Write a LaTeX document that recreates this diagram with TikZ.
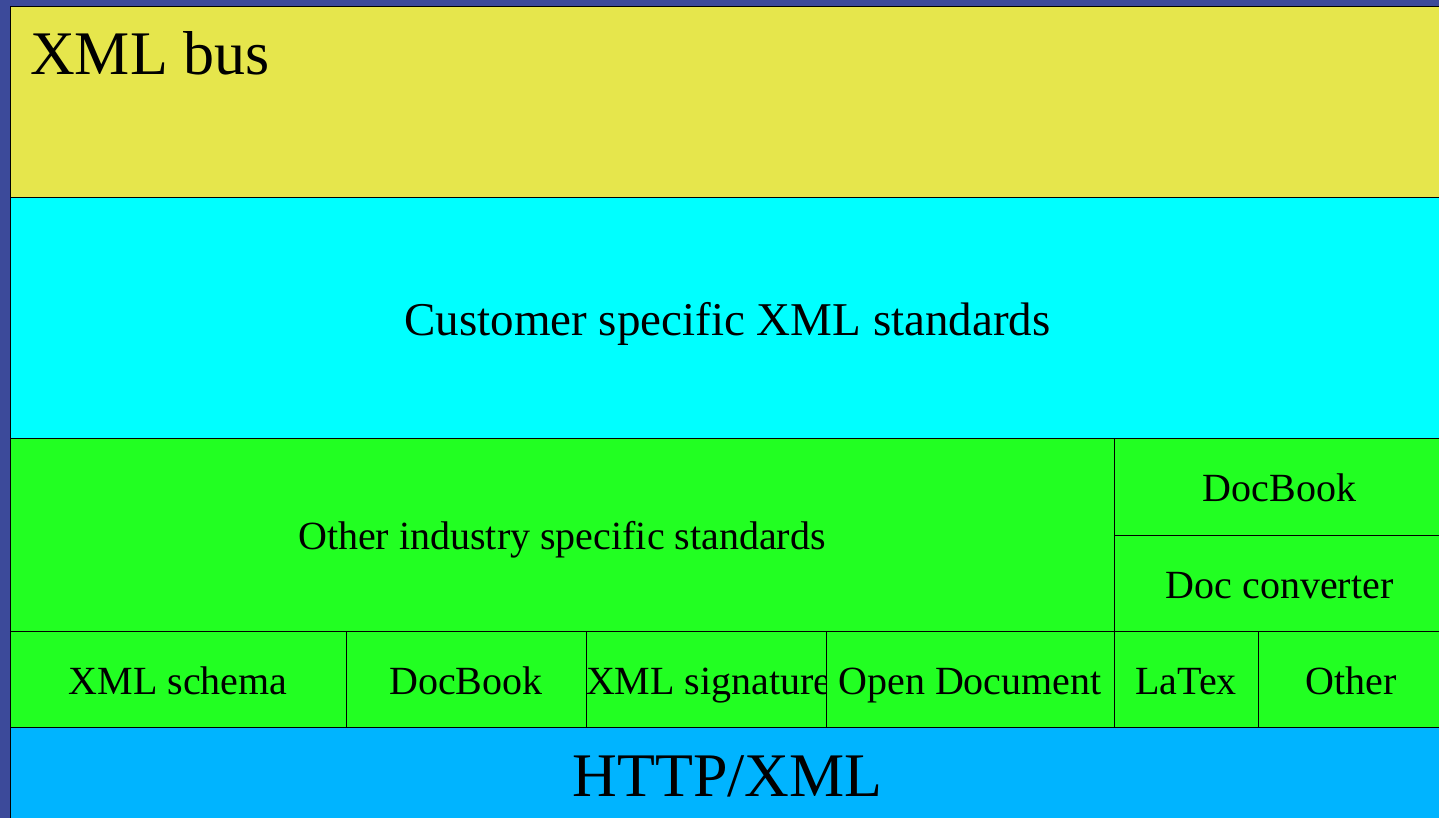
\documentclass[tikz,border=0pt]{standalone}
\usepackage{fontspec}
\setmainfont{Liberation Serif}
\definecolor{frameblue}{RGB}{60,74,154}
\definecolor{busyellow}{RGB}{230,230,76}
\definecolor{custcyan}{RGB}{0,255,255}
\definecolor{stdgreen}{RGB}{34,255,34}
\definecolor{httpblue}{RGB}{0,180,255}
\begin{document}
\begin{tikzpicture}[x=1pt,y=-1pt,
  layer/.style={draw=black,line width=1pt,anchor=north west,inner sep=0pt,
    outer sep=0pt,text=black,text depth=0pt},
  small/.style={font=\fontsize{40}{44}\selectfont,text height=30pt},
  medium/.style={font=\fontsize{47}{50}\selectfont,text height=35pt},
  large/.style={font=\fontsize{62}{66}\selectfont,text height=46pt},
]
\useasboundingbox (0,0) rectangle (1439,818);
\fill[frameblue] (0,0) rectangle (1439,818);

% top layer: the bus
\node[layer,fill=busyellow,minimum width=1435pt,minimum height=191pt] (bus) at (10,7) {};
\node[anchor=base west,inner sep=0pt,font=\fontsize{62}{66}\selectfont] (buslabel) at (30,75) {XML bus};

% customer standards
\node[layer,fill=custcyan,minimum width=1435pt,minimum height=240pt,medium] (cust) at (10,198) {Customer specific XML standards};

% industry standards
\node[layer,fill=stdgreen,minimum width=1104pt,minimum height=193pt,small] (industry) at (10,438) {Other industry specific standards};
\node[layer,fill=stdgreen,minimum width=331pt,minimum height=97pt,small] (docbooktop) at (1114,438) {DocBook};
\node[layer,fill=stdgreen,minimum width=331pt,minimum height=96pt,small] (converter) at (1114,535) {Doc converter};

% base standards row
\node[layer,fill=stdgreen,minimum width=336pt,minimum height=96pt,small] (schema) at (10,631) {XML schema};
\node[layer,fill=stdgreen,minimum width=240pt,minimum height=96pt,small] (docbook) at (346,631) {DocBook};
\node[layer,fill=stdgreen,minimum width=240pt,minimum height=96pt,small] (signature) at (586,631) {XML signature};
\node[layer,fill=stdgreen,minimum width=288pt,minimum height=96pt,small] (opendoc) at (826,631) {Open Document};
\node[layer,fill=stdgreen,minimum width=144pt,minimum height=96pt,small] (latex) at (1114,631) {LaTex};
\node[layer,fill=stdgreen,minimum width=187pt,minimum height=96pt,small] (other) at (1258,631) {Other};

% transport layer
\node[layer,fill=httpblue,minimum width=1435pt,minimum height=92pt,large] (http) at (10,727) {HTTP/XML};
\end{tikzpicture}
\end{document}
